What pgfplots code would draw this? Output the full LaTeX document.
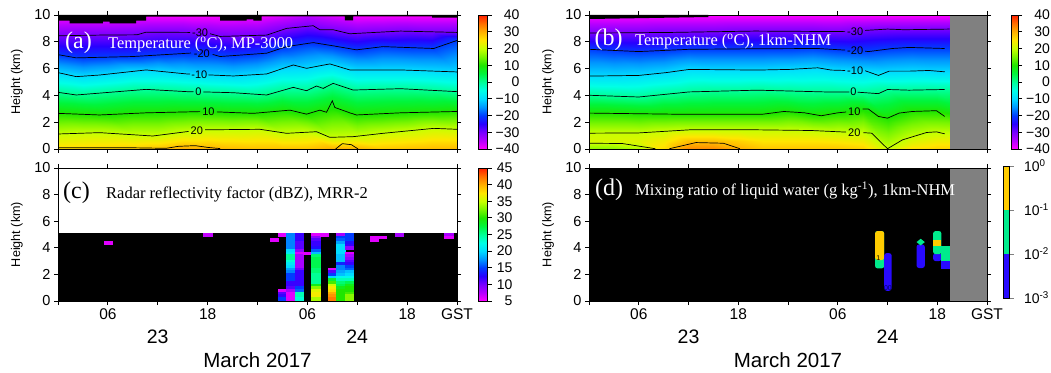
\documentclass[border=0pt]{standalone}
\usepackage{fontspec}
\setmainfont{Liberation Sans}
\newfontfamily\tnr{Liberation Serif}
\usepackage{pgfplots}
\usepackage{pgfplotstable}
\pgfplotsset{compat=1.18}

\definecolor{dblue}{RGB}{40,10,255}
\definecolor{dgreen}{RGB}{0,235,140}
\definecolor{dgold}{RGB}{255,204,0}
\definecolor{dgray}{RGB}{128,128,128}

% (a) MP-3000 temperature: isotherm heights (km) per time (h), T in degC
\pgfplotstableread{
h z T
0 0 26
3 0 26.5
6 0 27
9 0 27.5
12 0 28.5
15 0 30.5
18 0 30
21 0 29
24 0 28.5
27 0 28.5
30 0 28.5
33 0 30.2
36 0 30
39 0 28
42 0 28.5
45 0 29
48 0 29
0 1.12 20
3 1.18 20
6 1.18 20
9 1.06 20
12 1.02 20
15 1.25 20
18 1.43 20
21 1.45 20
24 1.47 20
27 1.22 20
30 1.25 20
33 0.88 20
36 0.95 20
39 1.17 20
42 1.35 20
45 1.53 20
48 1.47 20
0 2.66 10
3 2.59 10
6 2.57 10
9 2.65 10
12 2.72 10
15 2.77 10
18 2.78 10
21 2.72 10
24 2.69 10
27 2.85 10
30 2.62 10
33 3.0 10
36 2.55 10
39 2.64 10
42 2.71 10
45 2.76 10
48 2.8 10
0 4.23 0
3 4.07 0
6 4.22 0
9 4.37 0
12 4.4 0
15 4.3 0
18 4.24 0
21 4.2 0
24 4.08 0
27 4.37 0
30 4.4 0
33 4.88 0
36 4.41 0
39 4.46 0
42 4.47 0
45 4.37 0
48 4.28 0
0 5.7 -10
3 5.43 -10
6 5.59 -10
9 5.79 -10
12 5.81 -10
15 5.64 -10
18 5.52 -10
21 5.45 -10
24 5.56 -10
27 6.0 -10
30 6.05 -10
33 6.3 -10
36 5.9 -10
39 5.9 -10
42 5.88 -10
45 5.82 -10
48 5.75 -10
0 7.04 -20
3 6.81 -20
6 6.86 -20
9 6.9 -20
12 7.01 -20
15 7.12 -20
18 7.09 -20
21 6.97 -20
24 7.1 -20
27 7.54 -20
30 7.87 -20
33 7.71 -20
36 7.42 -20
39 7.63 -20
42 7.57 -20
45 7.5 -20
48 8.1 -20
0 8.45 -30
3 8.47 -30
6 8.5 -30
9 8.55 -30
12 8.7 -30
15 8.7 -30
18 8.55 -30
21 8.43 -30
24 8.48 -30
27 8.9 -30
30 9.16 -30
33 8.9 -30
36 8.63 -30
39 8.73 -30
42 8.79 -30
45 8.75 -30
48 8.7 -30
0 10 -40
3 10 -40
6 10 -40
9 10 -40
12 10 -40
15 10 -40
18 10 -41
21 10 -41
24 10 -41
27 10 -38
30 10 -36
33 10 -38
36 10 -41
39 10 -41
42 10 -40
45 10 -40
48 10 -41
}\tabA

% (b) 1km-NHM temperature
\pgfplotstableread{
h z T
0 0 16
3 0 16
6 0 18.5
9 0 26
12 0 33
15 0 33
18 0 30.2
21 0 28
24 0 28
27 0 28
30 0 28
33 0 27
36 0 20.5
39 0 26
42 0 27
45 0 27
0 0.6 21.5
3 0.6 21.5
6 0.6 22
9 0.6 24
12 0.6 28.5
15 0.6 28.5
18 0.6 27
21 0.6 25
24 0.6 25
27 0.6 25
30 0.6 24.5
33 0.6 23.5
36 0.04 20.2
39 0.4 23
42 0.6 23.5
45 0.6 23.5
0 1.18 20
3 1.19 20
6 1.2 20
9 1.31 20
12 1.43 20
15 1.43 20
18 1.43 20
21 1.42 20
24 1.40 20
27 1.38 20
30 1.29 20
33 1.21 20
36 0.08 20
39 0.9 20
42 1.16 20
45 1.13 20
0 2.68 10
3 2.66 10
6 2.63 10
9 2.61 10
12 2.6 10
15 2.6 10
18 2.6 10
21 2.6 10
24 2.78 10
27 2.55 10
30 2.65 10
33 2.9 10
36 2.3 10
39 2.8 10
42 2.85 10
45 2.45 10
0 4.01 0
3 3.95 0
6 3.88 0
9 4.07 0
12 4.26 0
15 4.31 0
18 4.35 0
21 4.38 0
24 4.33 0
27 4.28 0
30 4.23 0
33 4.17 0
36 4.44 0
39 4.44 0
42 4.44 0
45 4.44 0
0 5.44 -10
3 5.46 -10
6 5.49 -10
9 5.68 -10
12 5.94 -10
15 5.92 -10
18 5.9 -10
21 5.9 -10
24 5.97 -10
27 6.04 -10
30 5.89 -10
33 5.85 -10
36 5.75 -10
39 5.8 -10
42 5.77 -10
45 5.76 -10
0 7.44 -20
3 7.35 -20
6 7.27 -20
9 7.35 -20
12 7.44 -20
15 7.45 -20
18 7.47 -20
21 7.48 -20
24 7.49 -20
27 7.5 -20
30 7.4 -20
33 7.3 -20
36 7.45 -20
39 7.57 -20
42 7.52 -20
45 7.5 -20
0 8.65 -30
3 8.66 -30
6 8.68 -30
9 8.7 -30
12 8.72 -30
15 8.75 -30
18 8.78 -30
21 8.8 -30
24 8.8 -30
27 8.78 -30
30 8.75 -30
33 8.85 -30
36 8.95 -30
39 8.92 -30
42 8.92 -30
45 8.92 -30
0 10 -42
3 10 -42
6 10 -42
9 10 -42
12 10 -42
15 10 -42
18 10 -42
21 10 -42
24 10 -42
27 10 -42
30 10 -42
33 10 -42
36 10 -42
39 10 -42
42 10 -42
45 10 -42
}\tabB

% (c) MRR-2 reflectivity cells (hour, height km, dBZ)
\pgfplotstableread{
h z v
6 4.4 6
18 5.0 7
26 4.6 6
27 5.0 6
38 4.8 6
38 4.6 6
39 4.8 6
41 5.0 8
47 5.0 8
47 4.8 6
27 0.8 6
27 0.6 11
27 0.4 12
27 0.2 15
28 5.0 17
28 4.8 17
28 4.6 17
28 4.4 17
28 4.2 17
28 4.0 17
28 3.8 20
28 3.6 21
28 3.4 25
28 3.2 25
28 3.0 23
28 2.8 21
28 2.6 20
28 2.4 18
28 2.2 17
28 2.0 15
28 1.8 15
28 1.6 15
28 1.4 12
28 1.2 12
28 1.0 11
28 0.8 8
28 0.6 6
28 0.4 6
28 0.2 6
29 5.0 12
29 4.8 12
29 4.6 12
29 4.4 11
29 4.2 11
29 4.0 11
29 3.8 9
29 3.6 6
29 3.4 8
29 3.2 8
29 3.0 8
29 2.8 8
29 2.6 8
29 2.4 10
29 2.2 12
29 2.0 12
29 1.8 12
29 1.6 12
29 1.4 12
29 1.2 12
29 1.0 15
29 0.8 16
29 0.6 24
29 0.4 24
29 0.2 23
30 3.6 6
31 5.0 6
31 4.8 9
31 4.6 11
31 4.4 12
31 4.2 12
31 4.0 13
31 3.8 16
31 3.6 19
31 3.4 26
31 3.2 27
31 3.0 27
31 2.8 27
31 2.6 27
31 2.4 26
31 2.2 26
31 2.0 25
31 1.8 25
31 1.6 25
31 1.4 25
31 1.2 29
31 1.0 33
31 0.8 36
31 0.6 37
31 0.4 37
31 0.2 34
32 5.0 6
33 2.4 6
33 2.2 11
33 2.0 15
33 1.8 20
33 1.6 28
33 1.4 31
33 1.2 35
33 1.0 37
33 0.8 38
33 0.6 40
33 0.4 41
33 0.2 42
34 5.0 8
34 4.8 15
34 4.6 16
34 4.4 18
34 4.2 20
34 4.0 20
34 3.8 20
34 3.6 20
34 3.4 19
34 3.2 19
34 3.0 19
34 2.8 14
34 2.6 17
34 2.4 17
34 2.2 18
34 2.0 19
34 1.8 22
34 1.6 24
34 1.4 26
34 1.2 27
34 1.0 29
34 0.8 30
34 0.6 30
34 0.4 30
34 0.2 30
35 5.0 15
35 4.8 15
35 4.6 15
35 4.4 13
35 4.2 12
35 4.0 9
35 3.6 6
35 3.4 8
35 3.2 9
35 3.0 11
35 2.8 12
35 2.6 15
35 2.4 16
35 2.2 19
35 2.0 20
35 1.8 22
35 1.6 24
35 1.4 27
35 1.2 29
35 1.0 30
35 0.8 30
35 0.6 31
35 0.4 33
35 0.2 33
}\tabC

\pgfplotsset{/pgf/number format/assume math mode=true}
\pgfplotsset{
  colormap={tmap}{rgb255=(255,0,255) rgb255=(180,0,255) rgb255=(120,0,255) rgb255=(40,0,255) rgb255=(0,60,255) rgb255=(0,150,255) rgb255=(0,220,255) rgb255=(0,255,230) rgb255=(0,255,150) rgb255=(0,245,60) rgb255=(30,230,0) rgb255=(120,245,0) rgb255=(200,255,0) rgb255=(255,230,0) rgb255=(255,175,0) rgb255=(255,110,0) rgb255=(255,30,0)},
  panel/.style={
    scale only axis, axis on top, clip=true,
    xmin=0, xmax=48, ymin=0, ymax=10,
    xtick={0,6,...,48}, ytick={0,2,...,10},
    tick align=outside, major tick length=4pt,
    axis line style={line width=0.8pt},
    every tick/.append style={line width=0.8pt, black},
    yticklabel style={font=\fontsize{14.5}{16}\selectfont},
    xticklabel style={font=\fontsize{15.5}{18}\selectfont},
    ylabel={Height (km)},
    ylabel style={at={(axis description cs:-0.103,0.5)}, anchor=center, font=\fontsize{12.6}{15}\selectfont},
    colormap name=tmap,
  },
  cline/.style={black, line width=0.7pt, mark=none, forget plot},
}
\tikzset{
  clab/.style={font=\fontsize{11}{12}\selectfont, inner sep=0pt},
  ptitle/.style={anchor=base west, inner sep=0pt},
}

\begin{document}
\begin{tikzpicture}
\useasboundingbox (0pt,0pt) rectangle (1051pt,372pt);

% ---------------- (a)
\begin{axis}[panel, at={(58pt,223pt)}, anchor=south west, width=399pt, height=134pt,
  xticklabels={}, point meta min=-40, point meta max=40,
  colorbar, colorbar style={at={(parent axis.north east)}, anchor=north west, xshift=13pt,
    width=9pt, scale only axis,
    ytick={-40,-30,...,40}, yticklabels={−40,−30,−20,−10,0,10,20,30,40},
    ytick pos=right, tick align=outside, major tick length=4pt,
    axis line style={line width=0.6pt},
    yticklabel style={font=\fontsize{14}{16}\selectfont, anchor=east, xshift=31.4pt}}]
\addplot[surf, shader=interp, mesh/cols=17, point meta=explicit] table[x=h,y=z,meta=T]{\tabA};
\addplot[fill=black, draw=none, forget plot] coordinates {(0,10) (0,9.58) (1.4,9.58) (1.4,9.38) (5.4,9.38) (5.4,9.5) (6.2,9.5) (6.2,9.38) (9.4,9.38) (9.4,9.58) (10.6,9.58) (10.6,9.88) (19.5,9.88) (19.5,9.58) (22.7,9.58) (22.7,9.68) (23.5,9.68) (23.5,9.58) (24.5,9.58) (24.5,9.9) (34.5,9.9) (34.5,9.6) (35.5,9.6) (35.5,9.9) (45,9.9) (45,9.8) (48,9.8) (48,10)} -- cycle;
\addplot[cline] coordinates {(0,8.45) (5,8.5) (9.5,8.52) (10.6,8.72) (15.9,8.7)};
\addplot[cline] coordinates {(18.3,8.6) (19.5,8.4) (25.1,8.5) (27.5,9.0) (30.7,9.2) (31.5,8.9) (33.1,8.9) (35.1,8.6) (41.2,8.8) (48,8.7)};
\addplot[cline] coordinates {(0,7.04) (2.2,6.8) (9.0,6.9) (16.0,7.16)};
\addplot[cline] coordinates {(18.6,7.06) (19.5,6.9) (25.1,7.15) (27.5,7.64) (30.7,7.94) (33.1,7.7) (35.9,7.4) (39.1,7.64) (45.2,7.5) (48,8.1)};
\addplot[cline] coordinates {(0,5.7) (2.2,5.4) (5.0,5.52) (10.6,5.9) (15.5,5.6) (15.9,5.59)};
\addplot[cline] coordinates {(18.1,5.53) (21.1,5.45) (25.1,5.6) (28.3,6.27) (29.9,6.02) (32.7,6.35) (35.1,5.9) (41.2,5.9) (48,5.75)};
\addplot[cline] coordinates {(0,4.23) (2.2,4.03) (10.6,4.45) (15.5,4.28) (16.3,4.27)};
\addplot[cline] coordinates {(17.5,4.26) (21.1,4.2) (25.1,4.03) (28.3,4.6) (29.9,4.35) (31.1,4.7) (31.9,4.52) (33.1,4.9) (35.5,4.4) (41.2,4.5) (48,4.28)};
\addplot[cline] coordinates {(0,2.66) (5.0,2.54) (10.6,2.7) (17.1,2.79)};
\addplot[cline] coordinates {(19.1,2.77) (23.5,2.66) (27.9,2.9) (29.9,2.6) (31.5,2.9) (32.3,2.74) (33.0,3.6) (33.3,3.1) (35.1,2.7) (35.9,2.54) (41.2,2.7) (48,2.8)};
\addplot[cline] coordinates {(0,1.12) (5.0,1.22) (11.4,0.97) (15.7,1.31)};
\addplot[cline] coordinates {(17.7,1.43) (24.3,1.47) (27.5,1.17) (31.1,1.29) (32.7,0.87) (35.5,0.92) (39.1,1.17) (45.2,1.54) (48,1.47)};
\addplot[cline] coordinates {(0,0.1) (8,0.1) (13,0.05) (14.5,0.2) (16.5,0.25) (18,0.12) (19.5,0.03)};
\addplot[cline] coordinates {(33.4,0) (34.2,0.4) (35.3,0.32) (36.1,0)};
\node[clab] at (axis cs:17.1,8.68) {-30};
\node[clab] at (axis cs:17.3,7.12) {-20};
\node[clab] at (axis cs:17.0,5.56) {-10};
\node[clab] at (axis cs:16.9,4.26) {0};
\node[clab] at (axis cs:18.1,2.78) {10};
\node[clab] at (axis cs:16.7,1.37) {20};
\end{axis}

% ---------------- (b)
\begin{axis}[panel, at={(589pt,223pt)}, anchor=south west, width=398pt, height=134pt,
  xticklabels={}, point meta min=-40, point meta max=40,
  colorbar, colorbar style={at={(parent axis.north east)}, anchor=north west, xshift=16pt,
    width=6.5pt, scale only axis,
    ytick={-40,-30,...,40}, yticklabels={−40,−30,−20,−10,0,10,20,30,40},
    ytick pos=right, tick align=outside, major tick length=4pt,
    axis line style={line width=0.6pt},
    yticklabel style={font=\fontsize{14}{16}\selectfont, anchor=east, xshift=31.4pt}}]
\addplot[surf, shader=interp, mesh/cols=16, point meta=explicit] table[x=h,y=z,meta=T]{\tabB};
\addplot[fill=black, draw=none, forget plot] coordinates {(0,9.7) (14.4,9.85) (14.4,10) (0,10)} -- cycle;
\addplot[cline] coordinates {(0,8.65) (10,8.7) (20,8.8) (30.9,8.76)};
\addplot[cline] coordinates {(33.3,8.85) (36,8.95) (38,8.9) (43.5,8.95)};
\addplot[cline] coordinates {(0,7.44) (6,7.27) (12.1,7.44) (20.3,7.48) (27.6,7.5) (30.9,7.38)};
\addplot[cline] coordinates {(33.3,7.3) (33.7,7.27) (36.6,7.5) (38.6,7.58) (42.9,7.5)};
\addplot[cline] coordinates {(0,5.44) (6,5.49) (9.3,5.7) (12.1,5.94) (20.3,5.89) (24.2,5.94) (27.6,6.06) (29.2,5.89) (30.9,5.86)};
\addplot[cline] coordinates {(33.3,5.84) (34.9,5.49) (36.2,5.81) (38.6,5.81) (41,5.86) (42.9,5.76)};
\addplot[cline] coordinates {(0,4.01) (6,3.88) (12.1,4.26) (20.3,4.39) (28.4,4.26) (31.4,4.26)};
\addplot[cline] coordinates {(32.4,4.24) (34.9,4.13) (36,4.44) (38.6,4.39) (42.9,4.44)};
\addplot[cline] coordinates {(0,2.68) (10,2.6) (21,2.6) (23.5,2.8) (26,2.7) (28,2.48) (30,2.7) (31.0,2.76)};
\addplot[cline] coordinates {(33.0,2.98) (33.7,2.98) (34.9,2.43) (36,2.3) (37.4,2.68) (39,2.8) (41.9,2.86) (42.9,2.43)};
\addplot[cline] coordinates {(0,1.18) (6,1.2) (12.1,1.43) (20.3,1.43) (26.8,1.38) (31.0,1.26)};
\addplot[cline] coordinates {(33.1,1.22) (34.1,1.18) (36,0.02) (37.8,0.68) (40.7,1.23) (41.9,1.28) (42.9,1.13)};
\addplot[cline] coordinates {(0,0.43) (4,0.41) (8,0.02)};
\addplot[cline] coordinates {(9.7,0.02) (12.9,0.48) (16.2,0.43) (18.2,0.02)};
\addplot[fill=dgray, draw=none, forget plot] coordinates {(43.5,0) (48,0) (48,10) (43.5,10)} -- cycle;
\node[clab] at (axis cs:32.1,8.77) {-30};
\node[clab] at (axis cs:32.1,7.3) {-20};
\node[clab] at (axis cs:32.1,5.86) {-10};
\node[clab] at (axis cs:31.9,4.26) {0};
\node[clab] at (axis cs:32.0,2.78) {10};
\node[clab] at (axis cs:32.0,1.25) {20};
\end{axis}

% ---------------- (c)
\begin{axis}[panel, at={(58pt,71pt)}, anchor=south west, width=399pt, height=133pt,
  xticklabels={,06,,18,,06,,18,GST}, point meta min=5, point meta max=45,
  colorbar, colorbar style={at={(parent axis.north east)}, anchor=north west, xshift=13pt,
    width=9pt, scale only axis,
    ytick={5,10,...,45},
    ytick pos=right, tick align=outside, major tick length=4pt,
    axis line style={line width=0.6pt},
    yticklabel style={font=\fontsize{14}{16}\selectfont, anchor=east, xshift=24.4pt}}]
\addplot[fill=black, draw=none, forget plot] coordinates {(0,0) (48,0) (48,5.1) (0,5.1)} -- cycle;
\addplot[scatter, only marks, mark=square*, mark size=1pt,
  mark options={xscale=4.2, yscale=1.38, line width=0.2pt},
  scatter/use mapped color={draw=mapped color, fill=mapped color},
  point meta=explicit] table[x=h,y=z,meta=v]{\tabC};
\end{axis}

% ---------------- (d)
\begin{axis}[panel, at={(589pt,71pt)}, anchor=south west, width=398pt, height=133pt,
  xticklabels={,06,,18,,06,,18,GST}]
\addplot[fill=black, draw=none, forget plot] coordinates {(0,0) (43.5,0) (43.5,10) (0,10)} -- cycle;
\addplot[fill=dgray, draw=none, forget plot] coordinates {(43.5,0) (48,0) (48,10) (43.5,10)} -- cycle;
\addplot[fill=dgreen, draw=none, rounded corners=2.5pt] coordinates {(34.5,2.45) (35.6,2.45) (35.6,5.26) (34.5,5.26)} -- cycle;
\addplot[fill=dgold, draw=none, rounded corners=2.5pt] coordinates {(34.5,3.08) (35.6,3.08) (35.6,5.26) (34.5,5.26)} -- cycle;
\addplot[fill=dblue, draw=none, rounded corners=2.5pt] coordinates {(35.6,0.77) (36.5,0.77) (36.5,3.6) (35.6,3.6)} -- cycle;
\addplot[fill=dblue, draw=none, rounded corners=2.5pt] coordinates {(39.5,2.48) (40.5,2.48) (40.5,4.25) (39.5,4.25)} -- cycle;
\addplot[fill=dgreen, draw=none] coordinates {(40,4.68) (40.5,4.43) (40,4.18) (39.5,4.43)} -- cycle;
\addplot[fill=dblue, draw=none, rounded corners=2.5pt] coordinates {(41.5,3.0) (42.5,3.0) (42.5,3.6) (41.5,3.6)} -- cycle;
\addplot[fill=dgreen, draw=none, rounded corners=2.5pt] coordinates {(41.5,3.52) (42.5,3.52) (42.5,5.26) (41.5,5.26)} -- cycle;
\addplot[fill=dgold, draw=none] coordinates {(41.5,4.12) (42.5,4.12) (42.5,4.55) (41.5,4.55)} -- cycle;
\addplot[fill=dblue, draw=none] coordinates {(42.5,2.43) (43.5,2.43) (43.5,3.05) (42.5,3.05)} -- cycle;
\addplot[fill=dgreen, draw=none] coordinates {(42.5,3.0) (43.5,3.0) (43.5,4.12) (42.5,4.12)} -- cycle;
\node[font=\fontsize{7}{8}\selectfont, inner sep=0pt] at (axis cs:34.9,3.25) {1};
\node[font=\fontsize{7}{8}\selectfont, inner sep=0pt, text=blue!40!black] at (axis cs:36.05,0.95) {00};
\end{axis}

% colour bar of (d)
\begin{axis}[at={(1003pt,74pt)}, anchor=south west, scale only axis, width=6.5pt, height=132pt,
  xmin=0, xmax=1, ymin=0.001, ymax=1, ymode=log, xtick=\empty,
  ytick={0.001,0.01,0.1,1}, yticklabels={10\textsuperscript{-3},10\textsuperscript{-2},10\textsuperscript{-1},10\textsuperscript{0}},
  yminorticks=false, ytick pos=right, yticklabel pos=right, tick align=outside, major tick length=4pt,
  axis line style={line width=0.6pt}, axis on top,
  yticklabel style={font=\fontsize{14}{16}\selectfont, xshift=7pt}]
\addplot[fill=dblue, draw=none] coordinates {(0,0.001) (1,0.001) (1,0.01) (0,0.01)} -- cycle;
\addplot[fill=dgreen, draw=none] coordinates {(0,0.01) (1,0.01) (1,0.1) (0,0.1)} -- cycle;
\addplot[fill=dgold, draw=none] coordinates {(0,0.1) (1,0.1) (1,1) (0,1)} -- cycle;
\end{axis}

% panel titles
\node[ptitle, text=white, font=\tnr\fontsize{24}{28}\selectfont] at (65pt,323pt) {(a)};
\node[ptitle, text=white, font=\tnr\fontsize{16.4}{19}\selectfont] at (108pt,323pt) {Temperature (\textsuperscript{o}C), MP-3000};
\node[ptitle, text=white, font=\tnr\fontsize{24}{28}\selectfont] at (594.5pt,326pt) {(b)};
\node[ptitle, text=white, font=\tnr\fontsize{16.4}{19}\selectfont] at (635pt,326pt) {Temperature (\textsuperscript{o}C), 1km-NHM};
\node[ptitle, text=black, font=\tnr\fontsize{24}{28}\selectfont] at (63pt,173pt) {(c)};
\node[ptitle, text=black, font=\tnr\fontsize{16.5}{19}\selectfont] at (106pt,173.5pt) {Radar reflectivity factor (dBZ), MRR-2};
\node[ptitle, text=white, font=\tnr\fontsize{24}{28}\selectfont] at (595pt,176pt) {(d)};
\node[ptitle, text=white, font=\tnr\fontsize{16.5}{19}\selectfont] at (635pt,176pt) {Mixing ratio of liquid water (g kg\textsuperscript{-1}), 1km-NHM};

% date labels
\node[font=\fontsize{19.5}{22}\selectfont] at (157.7pt,35.5pt) {23};
\node[font=\fontsize{19.5}{22}\selectfont] at (357.2pt,35.5pt) {24};
\node[font=\fontsize{20.5}{24}\selectfont] at (257.5pt,12pt) {March 2017};
\node[font=\fontsize{19.5}{22}\selectfont] at (688.5pt,35.5pt) {23};
\node[font=\fontsize{19.5}{22}\selectfont] at (887.5pt,35.5pt) {24};
\node[font=\fontsize{20.5}{24}\selectfont] at (788pt,12pt) {March 2017};
\end{tikzpicture}
\end{document}
